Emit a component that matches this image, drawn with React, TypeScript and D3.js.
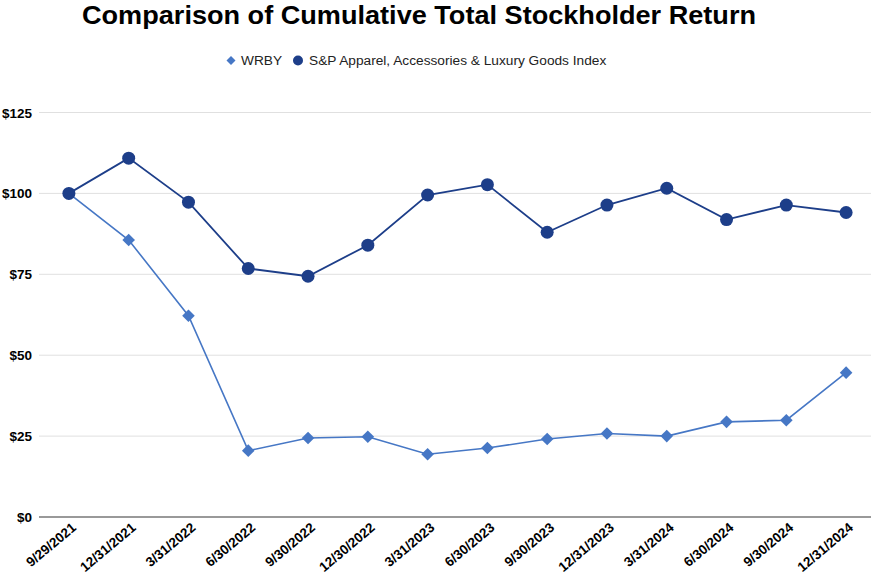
import * as d3 from 'd3';

const dates = [
  '9/29/2021', '12/31/2021', '3/31/2022', '6/30/2022', '9/30/2022', '12/30/2022', '3/31/2023',
  '6/30/2023', '9/30/2023', '12/31/2023', '3/31/2024', '6/30/2024', '9/30/2024', '12/31/2024',
];
const wrby = [100, 85.6, 62.2, 20.5, 24.4, 24.8, 19.4, 21.3, 24.1, 25.8, 25.0, 29.4, 29.9, 44.6];
const spIndex = [100, 110.9, 97.3, 76.8, 74.4, 84.0, 99.5, 102.7, 88.0, 96.4, 101.6, 91.9, 96.4, 94.1];
const yTicks = [0, 25, 50, 75, 100, 125];

const W = 877;
const H = 577;
const WRBY_COLOR = '#4677c5';
const SP_COLOR = '#1d3e89';

// square turned 45deg, half-diagonal r
const diamondPath = (r: number) => `M0,${-r}L${r},0L0,${r}L${-r},0Z`;

export default function App() {
  const x = d3.scalePoint<string>().domain(dates).range([39, 876]).padding(0.5);
  const y = d3.scaleLinear().domain([0, 125]).range([517, 112.5]);

  const lineW = d3.line<number>().x((_, i) => x(dates[i]) ?? 0).y(d => y(d));

  return (
    <svg width={W} height={H} style={{ position: 'fixed', left: 0, top: 0, background: '#fff' }}
      fontFamily="'Liberation Sans', Arial, sans-serif">
      <text x={419} y={24} textAnchor="middle" fontSize={26} fontWeight="bold" fill="#000"
        textLength={674} lengthAdjust="spacingAndGlyphs">
        Comparison of Cumulative Total Stockholder Return
      </text>

      {/* legend */}
      <g transform="translate(231,60.5)">
        <path d={diamondPath(4.5)} fill={WRBY_COLOR} />
        <text x={10} y={4.8} fontSize={13.7} fill="#222">WRBY</text>
      </g>
      <g transform="translate(298,60.5)">
        <circle r={5} fill={SP_COLOR} />
        <text x={11} y={4.8} fontSize={13.7} fill="#222">S&amp;P Apparel, Accessories &amp; Luxury Goods Index</text>
      </g>

      {/* grid + y labels */}
      {yTicks.map(t => (
        <g key={t}>
          <line x1={39} x2={871} y1={y(t)} y2={y(t)}
            stroke={t === 0 ? '#777' : '#e0e0e0'} strokeWidth={t === 0 ? 1.5 : 1} />
          <text x={32} y={y(t) + 5} textAnchor="end" fontSize={13.5} fontWeight="bold" fill="#000">
            ${t}
          </text>
        </g>
      ))}

      {/* x labels */}
      {dates.map(d => (
        <text key={d} transform={`translate(${(x(d) ?? 0) + 8},${529}) rotate(-40)`}
          textAnchor="end" fontSize={13.5} fontWeight="bold" fill="#000">
          {d}
        </text>
      ))}

      {/* series */}
      <path d={lineW(wrby) ?? ''} fill="none" stroke={WRBY_COLOR} strokeWidth={1.6} />
      <path d={lineW(spIndex) ?? ''} fill="none" stroke={SP_COLOR} strokeWidth={1.8} />
      {wrby.map((v, i) => (
        <path key={'w' + i} d={diamondPath(6.3)} transform={`translate(${x(dates[i])},${y(v)})`} fill={WRBY_COLOR} />
      ))}
      {spIndex.map((v, i) => (
        <circle key={'s' + i} cx={x(dates[i])} cy={y(v)} r={6.5} fill={SP_COLOR} />
      ))}
    </svg>
  );
}
